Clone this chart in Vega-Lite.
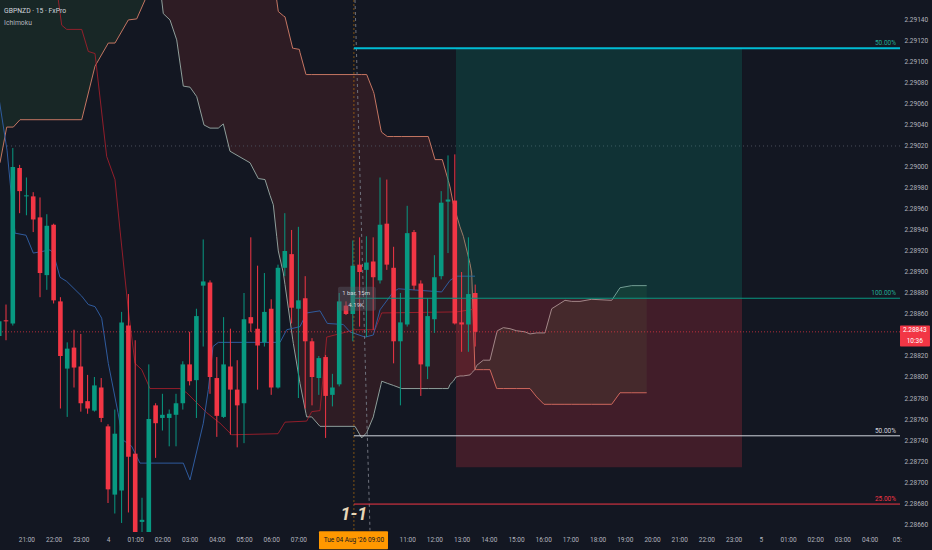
{
  "$schema": "https://vega.github.io/schema/vega-lite/v6.json",
  "width": 900,
  "height": 532,
  "autosize": {"type": "none"},
  "padding": {"left": 0, "top": 0, "right": 32, "bottom": 18},
  "background": "#131722",
  "config": {"view": {"stroke": null}, "font": "Roboto"},
  "datasets": {
    "candles": [
      {"t": -4.0, "o": 2.28839, "h": 2.28856, "l": 2.28837, "c": 2.28853},
      {"t": -3.75, "o": 2.28854, "h": 2.28869, "l": 2.28835, "c": 2.28853},
      {"t": -3.5, "o": 2.28851, "h": 2.29018, "l": 2.28849, "c": 2.29000},
      {"t": -3.25, "o": 2.28999, "h": 2.29002, "l": 2.28956, "c": 2.28977},
      {"t": -3.0, "o": 2.28972, "h": 2.28990, "l": 2.28954, "c": 2.28973},
      {"t": -2.75, "o": 2.28972, "h": 2.28976, "l": 2.28938, "c": 2.28950},
      {"t": -2.5, "o": 2.28952, "h": 2.28971, "l": 2.28876, "c": 2.28899},
      {"t": -2.25, "o": 2.28897, "h": 2.28955, "l": 2.28883, "c": 2.28944},
      {"t": -2.0, "o": 2.28945, "h": 2.28946, "l": 2.28870, "c": 2.28873},
      {"t": -1.75, "o": 2.28872, "h": 2.28876, "l": 2.28770, "c": 2.28820},
      {"t": -1.5, "o": 2.28808, "h": 2.28833, "l": 2.28762, "c": 2.28827},
      {"t": -1.25, "o": 2.28828, "h": 2.28845, "l": 2.28790, "c": 2.28809},
      {"t": -1.0, "o": 2.28810, "h": 2.28841, "l": 2.28767, "c": 2.28775},
      {"t": -0.75, "o": 2.28777, "h": 2.28802, "l": 2.28765, "c": 2.28770},
      {"t": -0.5, "o": 2.28768, "h": 2.28800, "l": 2.28767, "c": 2.28792},
      {"t": -0.25, "o": 2.28790, "h": 2.28799, "l": 2.28757, "c": 2.28761},
      {"t": 0.0, "o": 2.28753, "h": 2.28755, "l": 2.28680, "c": 2.28693},
      {"t": 0.25, "o": 2.28688, "h": 2.28769, "l": 2.28670, "c": 2.28746},
      {"t": 0.5, "o": 2.28692, "h": 2.28862, "l": 2.28661, "c": 2.28852},
      {"t": 0.75, "o": 2.28849, "h": 2.28879, "l": 2.28671, "c": 2.28724},
      {"t": 1.0, "o": 2.28727, "h": 2.28835, "l": 2.28640, "c": 2.28648},
      {"t": 1.25, "o": 2.28662, "h": 2.28685, "l": 2.28640, "c": 2.28664},
      {"t": 1.5, "o": 2.28648, "h": 2.28812, "l": 2.28640, "c": 2.28760},
      {"t": 1.75, "o": 2.28773, "h": 2.28775, "l": 2.28723, "c": 2.28756},
      {"t": 2.0, "o": 2.28761, "h": 2.28784, "l": 2.28749, "c": 2.28764},
      {"t": 2.25, "o": 2.28761, "h": 2.28769, "l": 2.28734, "c": 2.28765},
      {"t": 2.5, "o": 2.28764, "h": 2.28784, "l": 2.28734, "c": 2.28775},
      {"t": 2.75, "o": 2.28775, "h": 2.28815, "l": 2.28769, "c": 2.28812},
      {"t": 3.0, "o": 2.28812, "h": 2.28843, "l": 2.28792, "c": 2.28796},
      {"t": 3.25, "o": 2.28797, "h": 2.28865, "l": 2.28761, "c": 2.28858},
      {"t": 3.5, "o": 2.28887, "h": 2.28931, "l": 2.28829, "c": 2.28891},
      {"t": 3.75, "o": 2.28890, "h": 2.28892, "l": 2.28784, "c": 2.28800},
      {"t": 4.0, "o": 2.28799, "h": 2.28819, "l": 2.28743, "c": 2.28763},
      {"t": 4.25, "o": 2.28762, "h": 2.28857, "l": 2.28761, "c": 2.28812},
      {"t": 4.5, "o": 2.28810, "h": 2.28846, "l": 2.28745, "c": 2.28788},
      {"t": 4.75, "o": 2.28788, "h": 2.28816, "l": 2.28733, "c": 2.28773},
      {"t": 5.0, "o": 2.28775, "h": 2.28880, "l": 2.28737, "c": 2.28855},
      {"t": 5.25, "o": 2.28857, "h": 2.28933, "l": 2.28843, "c": 2.28851},
      {"t": 5.5, "o": 2.28846, "h": 2.28906, "l": 2.28788, "c": 2.28830},
      {"t": 5.75, "o": 2.28833, "h": 2.28899, "l": 2.28829, "c": 2.28862},
      {"t": 6.0, "o": 2.28865, "h": 2.28874, "l": 2.28783, "c": 2.28790},
      {"t": 6.25, "o": 2.28790, "h": 2.28907, "l": 2.28789, "c": 2.28904},
      {"t": 6.5, "o": 2.28904, "h": 2.28956, "l": 2.28896, "c": 2.28920},
      {"t": 6.75, "o": 2.28917, "h": 2.28940, "l": 2.28851, "c": 2.28866},
      {"t": 7.0, "o": 2.28865, "h": 2.28943, "l": 2.28780, "c": 2.28873},
      {"t": 7.25, "o": 2.28875, "h": 2.28896, "l": 2.28770, "c": 2.28834},
      {"t": 7.5, "o": 2.28834, "h": 2.28837, "l": 2.28773, "c": 2.28800},
      {"t": 7.75, "o": 2.28799, "h": 2.28820, "l": 2.28783, "c": 2.28818},
      {"t": 8.0, "o": 2.28819, "h": 2.28821, "l": 2.28742, "c": 2.28782},
      {"t": 8.25, "o": 2.28783, "h": 2.28803, "l": 2.28772, "c": 2.28790},
      {"t": 8.5, "o": 2.28793, "h": 2.28880, "l": 2.28791, "c": 2.28872},
      {"t": 8.75, "o": 2.28868, "h": 2.28872, "l": 2.28859, "c": 2.28860},
      {"t": 9.0, "o": 2.28860, "h": 2.28930, "l": 2.28834, "c": 2.28906},
      {"t": 9.25, "o": 2.28907, "h": 2.28933, "l": 2.28848, "c": 2.28900},
      {"t": 9.5, "o": 2.28902, "h": 2.28934, "l": 2.28838, "c": 2.28909},
      {"t": 9.75, "o": 2.28910, "h": 2.28933, "l": 2.28845, "c": 2.28895},
      {"t": 10.0, "o": 2.28892, "h": 2.28990, "l": 2.28889, "c": 2.28945},
      {"t": 10.25, "o": 2.28946, "h": 2.28988, "l": 2.28902, "c": 2.28907},
      {"t": 10.5, "o": 2.28904, "h": 2.28924, "l": 2.28813, "c": 2.28834},
      {"t": 10.75, "o": 2.28834, "h": 2.28880, "l": 2.28773, "c": 2.28852},
      {"t": 11.0, "o": 2.28850, "h": 2.28963, "l": 2.28848, "c": 2.28937},
      {"t": 11.25, "o": 2.28938, "h": 2.28940, "l": 2.28883, "c": 2.28887},
      {"t": 11.5, "o": 2.28889, "h": 2.28892, "l": 2.28782, "c": 2.28812},
      {"t": 11.75, "o": 2.28810, "h": 2.28875, "l": 2.28798, "c": 2.28858},
      {"t": 12.0, "o": 2.28855, "h": 2.28916, "l": 2.28842, "c": 2.28895},
      {"t": 12.25, "o": 2.28896, "h": 2.28977, "l": 2.28893, "c": 2.28966},
      {"t": 12.5, "o": 2.28967, "h": 2.29011, "l": 2.28918, "c": 2.28969},
      {"t": 12.75, "o": 2.28968, "h": 2.29012, "l": 2.28850, "c": 2.28851},
      {"t": 13.0, "o": 2.28852, "h": 2.28900, "l": 2.28824, "c": 2.28850},
      {"t": 13.25, "o": 2.28850, "h": 2.28933, "l": 2.28824, "c": 2.28879},
      {"t": 13.5, "o": 2.28880, "h": 2.28888, "l": 2.28829, "c": 2.28843}
    ],
    "cloud": [
      {"seg": "g1", "t": -4.2, "a": 2.2920, "b": 2.29000},
      {"seg": "g1", "t": -3.971, "a": 2.2920, "b": 2.29004},
      {"seg": "g1", "t": -3.724, "a": 2.2920, "b": 2.29038},
      {"seg": "g1", "t": -3.482, "a": 2.2920, "b": 2.29038},
      {"seg": "g1", "t": -3.235, "a": 2.2920, "b": 2.29045},
      {"seg": "g1", "t": -0.967, "a": 2.2920, "b": 2.29045},
      {"seg": "g1", "t": -0.478, "a": 2.2920, "b": 2.29096},
      {"seg": "g1", "t": 0.011, "a": 2.2920, "b": 2.29118},
      {"seg": "g1", "t": 0.257, "a": 2.2920, "b": 2.29118},
      {"seg": "g1", "t": 0.746, "a": 2.2920, "b": 2.29140},
      {"seg": "g1", "t": 1.055, "a": 2.2920, "b": 2.29141},
      {"seg": "g1", "t": 1.36, "a": 2.2920, "b": 2.29159},
      {"seg": "g1", "t": 1.7, "a": 2.29185, "b": 2.29185},
      {"seg": "r", "t": 1.7, "a": 2.29185, "b": 2.29185},
      {"seg": "r", "t": 1.974, "a": 2.29159, "b": 2.2920},
      {"seg": "r", "t": 2.033, "a": 2.29146, "b": 2.2920},
      {"seg": "r", "t": 2.279, "a": 2.29140, "b": 2.2920},
      {"seg": "r", "t": 2.526, "a": 2.29121, "b": 2.2920},
      {"seg": "r", "t": 2.768, "a": 2.29077, "b": 2.2920},
      {"seg": "r", "t": 3.015, "a": 2.29076, "b": 2.2920},
      {"seg": "r", "t": 3.261, "a": 2.29067, "b": 2.2920},
      {"seg": "r", "t": 3.529, "a": 2.29040, "b": 2.2920},
      {"seg": "r", "t": 3.75, "a": 2.29037, "b": 2.2920},
      {"seg": "r", "t": 4.055, "a": 2.29037, "b": 2.2920},
      {"seg": "r", "t": 4.239, "a": 2.29041, "b": 2.2920},
      {"seg": "r", "t": 4.485, "a": 2.29015, "b": 2.2920},
      {"seg": "r", "t": 5.221, "a": 2.29004, "b": 2.2920},
      {"seg": "r", "t": 5.526, "a": 2.28989, "b": 2.2920},
      {"seg": "r", "t": 5.772, "a": 2.28988, "b": 2.2920},
      {"seg": "r", "t": 5.956, "a": 2.28973, "b": 2.29188},
      {"seg": "r", "t": 6.077, "a": 2.28964, "b": 2.29174},
      {"seg": "r", "t": 6.202, "a": 2.28934, "b": 2.29159},
      {"seg": "r", "t": 6.261, "a": 2.28920, "b": 2.29148},
      {"seg": "r", "t": 6.445, "a": 2.28899, "b": 2.29144},
      {"seg": "r", "t": 6.507, "a": 2.28888, "b": 2.29143},
      {"seg": "r", "t": 6.79, "a": 2.28836, "b": 2.29113},
      {"seg": "r", "t": 6.813, "a": 2.28832, "b": 2.29113},
      {"seg": "r", "t": 7.033, "a": 2.28798, "b": 2.29112},
      {"seg": "r", "t": 7.059, "a": 2.28794, "b": 2.29109},
      {"seg": "r", "t": 7.279, "a": 2.28765, "b": 2.29088},
      {"seg": "r", "t": 7.305, "a": 2.28762, "b": 2.29088},
      {"seg": "r", "t": 7.489, "a": 2.28762, "b": 2.29088},
      {"seg": "r", "t": 7.794, "a": 2.28753, "b": 2.29088},
      {"seg": "r", "t": 9.081, "a": 2.28753, "b": 2.29088},
      {"seg": "r", "t": 9.327, "a": 2.28742, "b": 2.29088},
      {"seg": "r", "t": 9.511, "a": 2.28747, "b": 2.29088},
      {"seg": "r", "t": 9.754, "a": 2.28762, "b": 2.29072},
      {"seg": "r", "t": 9.779, "a": 2.28765, "b": 2.29070},
      {"seg": "r", "t": 10.037, "a": 2.28793, "b": 2.29035},
      {"seg": "r", "t": 10.063, "a": 2.28796, "b": 2.29033},
      {"seg": "r", "t": 10.268, "a": 2.28794, "b": 2.29029},
      {"seg": "r", "t": 10.489, "a": 2.28792, "b": 2.29029},
      {"seg": "r", "t": 10.798, "a": 2.28789, "b": 2.29029},
      {"seg": "r", "t": 11.776, "a": 2.28789, "b": 2.29029},
      {"seg": "r", "t": 12.022, "a": 2.28789, "b": 2.29007},
      {"seg": "r", "t": 12.29, "a": 2.28789, "b": 2.29007},
      {"seg": "r", "t": 12.511, "a": 2.28789, "b": 2.28987},
      {"seg": "r", "t": 12.574, "a": 2.28793, "b": 2.28981},
      {"seg": "r", "t": 12.695, "a": 2.28796, "b": 2.28965},
      {"seg": "r", "t": 12.794, "a": 2.28800, "b": 2.28956},
      {"seg": "r", "t": 12.941, "a": 2.28801, "b": 2.28943},
      {"seg": "r", "t": 13.063, "a": 2.28801, "b": 2.28934},
      {"seg": "r", "t": 13.309, "a": 2.28802, "b": 2.28908},
      {"seg": "r", "t": 13.371, "a": 2.28804, "b": 2.28899},
      {"seg": "r", "t": 13.49, "a": 2.28807, "b": 2.28807},
      {"seg": "g2", "t": 13.49, "a": 2.28807, "b": 2.28807},
      {"seg": "g2", "t": 13.555, "a": 2.28811, "b": 2.28807},
      {"seg": "g2", "t": 13.798, "a": 2.28816, "b": 2.28807},
      {"seg": "g2", "t": 14.044, "a": 2.28816, "b": 2.28807},
      {"seg": "g2", "t": 14.29, "a": 2.28842, "b": 2.28789},
      {"seg": "g2", "t": 14.313, "a": 2.28844, "b": 2.28789},
      {"seg": "g2", "t": 14.533, "a": 2.28847, "b": 2.28789},
      {"seg": "g2", "t": 14.779, "a": 2.28846, "b": 2.28789},
      {"seg": "g2", "t": 15.026, "a": 2.28844, "b": 2.28789},
      {"seg": "g2", "t": 15.331, "a": 2.28843, "b": 2.28789},
      {"seg": "g2", "t": 15.515, "a": 2.28841, "b": 2.28789},
      {"seg": "g2", "t": 15.761, "a": 2.28842, "b": 2.28781},
      {"seg": "g2", "t": 16.029, "a": 2.28842, "b": 2.28774},
      {"seg": "g2", "t": 16.066, "a": 2.28842, "b": 2.28774},
      {"seg": "g2", "t": 16.313, "a": 2.28865, "b": 2.28774},
      {"seg": "g2", "t": 16.801, "a": 2.28873, "b": 2.28774},
      {"seg": "g2", "t": 17.048, "a": 2.28872, "b": 2.28774},
      {"seg": "g2", "t": 17.353, "a": 2.28872, "b": 2.28774},
      {"seg": "g2", "t": 17.783, "a": 2.28874, "b": 2.28774},
      {"seg": "g2", "t": 18.518, "a": 2.28873, "b": 2.28774},
      {"seg": "g2", "t": 18.824, "a": 2.28885, "b": 2.28785},
      {"seg": "g2", "t": 19.254, "a": 2.28887, "b": 2.28785},
      {"seg": "g2", "t": 19.805, "a": 2.28887, "b": 2.28785}
    ],
    "kijun": [
      {"t": -1.9, "p": 2.29185}, {"t": -1.827, "p": 2.29159}, {"t": -1.702, "p": 2.29135},
      {"t": -1.518, "p": 2.29131}, {"t": -0.967, "p": 2.29131}, {"t": -0.724, "p": 2.29110},
      {"t": -0.478, "p": 2.29108}, {"t": -0.048, "p": 2.29010}, {"t": 0.257, "p": 2.28988},
      {"t": 0.441, "p": 2.28940}, {"t": 0.746, "p": 2.28864}, {"t": 0.993, "p": 2.28813},
      {"t": 1.239, "p": 2.28807}, {"t": 1.544, "p": 2.28789}, {"t": 2.647, "p": 2.28789},
      {"t": 2.893, "p": 2.28785}, {"t": 3.629, "p": 2.28766}, {"t": 4.118, "p": 2.28756},
      {"t": 4.548, "p": 2.28745}, {"t": 6.25, "p": 2.28746}, {"t": 6.507, "p": 2.28757},
      {"t": 7.305, "p": 2.28758}, {"t": 7.489, "p": 2.28767}, {"t": 7.794, "p": 2.28768},
      {"t": 8.04, "p": 2.28838}, {"t": 9.081, "p": 2.28845}, {"t": 9.816, "p": 2.28845},
      {"t": 10.063, "p": 2.28861}, {"t": 12.82, "p": 2.28862}, {"t": 13.555, "p": 2.28865}
    ],
    "tenkan": [
      {"t": -4.2, "p": 2.29100}, {"t": -3.971, "p": 2.29059}, {"t": -3.713, "p": 2.29016},
      {"t": -3.419, "p": 2.28937}, {"t": -3.015, "p": 2.28935}, {"t": -2.746, "p": 2.28918},
      {"t": -2.132, "p": 2.28921}, {"t": -2.011, "p": 2.28918}, {"t": -1.765, "p": 2.28895},
      {"t": -1.518, "p": 2.28891}, {"t": -0.967, "p": 2.28877}, {"t": -0.724, "p": 2.28869},
      {"t": -0.478, "p": 2.28867}, {"t": -0.232, "p": 2.28856}, {"t": 0.011, "p": 2.28813},
      {"t": 0.368, "p": 2.28766}, {"t": 0.551, "p": 2.28740}, {"t": 0.871, "p": 2.28734},
      {"t": 1.176, "p": 2.28718}, {"t": 2.768, "p": 2.28718}, {"t": 3.015, "p": 2.28702},
      {"t": 3.504, "p": 2.28756}, {"t": 3.688, "p": 2.28788}, {"t": 3.86, "p": 2.28829},
      {"t": 4.055, "p": 2.28833}, {"t": 6.324, "p": 2.28833}, {"t": 6.57, "p": 2.28845},
      {"t": 7.059, "p": 2.28848}, {"t": 7.305, "p": 2.28861}, {"t": 7.794, "p": 2.28863},
      {"t": 8.063, "p": 2.28851}, {"t": 8.651, "p": 2.28850}, {"t": 8.897, "p": 2.28843},
      {"t": 9.449, "p": 2.28838}, {"t": 9.754, "p": 2.28840}, {"t": 10.0, "p": 2.28864},
      {"t": 10.489, "p": 2.28881}, {"t": 10.673, "p": 2.28884}, {"t": 12.268, "p": 2.28881},
      {"t": 12.574, "p": 2.28892}, {"t": 12.82, "p": 2.28896}, {"t": 13.493, "p": 2.28896}
    ],
    "levels": [
      {"name": "target", "p": 2.29113, "t1": 9.04, "t2": 29.118, "label": "50.00%"},
      {"name": "entry", "p": 2.28875, "t1": 9.04, "t2": 29.118, "label": "100.00%"},
      {"name": "mid", "p": 2.28744, "t1": 9.04, "t2": 29.118, "label": "50.00%"},
      {"name": "stop", "p": 2.28679, "t1": 9.04, "t2": 29.118, "label": "25.00%"}
    ],
    "boxes": [
      {"name": "profit", "t1": 12.794, "t2": 23.31, "p1": 2.28875, "p2": 2.29113},
      {"name": "loss", "t1": 12.794, "t2": 23.31, "p1": 2.28714, "p2": 2.28875}
    ],
    "hlines": [
      {"name": "last", "p": 2.28843},
      {"name": "cross", "p": 2.29020}
    ],
    "vline": [{"t": 9.04}],
    "diag": [{"t": 9.081, "p": 2.29159}, {"t": 9.632, "p": 2.28654}],
    "tipbox": [{"t1": 8.456, "t2": 9.85, "p1": 2.28863, "p2": 2.28886}],
    "tiptext": [
      {"t": 9.12, "p": 2.28880, "text": "1 bar, 15m"},
      {"t": 9.12, "p": 2.28869, "text": "4.19K"}
    ],
    "big": [{"t": 9.04, "p": 2.28669, "text": "1-1"}],
    "titles": [
      {"kind": "sym", "t": -3.82, "p": 2.29149, "text": "GBPNZD · 15 · FxPro"},
      {"kind": "ind", "t": -3.82, "p": 2.29137, "text": "Ichimoku"}
    ],
    "timebox": [{"t1": 7.757, "t2": 10.294, "p1": 2.28636, "p2": 2.28653, "tc": 9.04, "pc": 2.28645, "text": "Tue 04 Aug '26   09:00"}],
    "pricebox": [{"t1": 29.118, "t2": 30.22, "p1": 2.28829, "p2": 2.28849, "tc": 29.66, "pa": 2.28845, "pb": 2.28834, "ta": "2.28843", "tb": "10:36"}]
  },
  "layer": [
    {
      "data": {"name": "cloud"},
      "transform": [{"filter": "datum.seg == 'g1'"}],
      "mark": {"type": "area", "color": "#43a047", "opacity": 0.12, "clip": true},
      "encoding": {
        "x": {
          "field": "t", "type": "quantitative", "title": null,
          "scale": {"domain": [-3.971, 29.118], "nice": false, "zero": false, "padding": 0},
          "axis": {
            "title": null, "domain": false, "ticks": false, "grid": false, "tickCount": 100,
            "values": [-3, -2, -1, 0, 1, 2, 3, 4, 5, 6, 7, 11, 12, 13, 14, 15, 16, 17, 18, 19, 20, 21, 22, 23, 24, 25, 26, 27, 28, 29],
            "labelExpr": "datum.value == 29 ? '05:' : datum.value == 0 ? '4' : datum.value == 24 ? '5' : ((((datum.value % 24) + 24) % 24) < 10 ? '0' : '') + (((datum.value % 24) + 24) % 24) + ':00'",
            "labelColor": "#b2b5be", "labelFontSize": 6.5, "labelPadding": 4,
            "labelFlush": false, "labelOverlap": false, "labelBound": false
          }
        },
        "y": {
          "field": "a", "type": "quantitative", "title": null,
          "scale": {"domain": [2.286524, 2.29159], "nice": false, "zero": false, "padding": 0},
          "axis": {
            "orient": "right", "title": null, "domain": false, "ticks": false, "grid": false, "tickCount": 100,
            "values": [2.2866, 2.2868, 2.287, 2.2872, 2.2874, 2.2876, 2.2878, 2.288, 2.2882, 2.2886, 2.2888, 2.289, 2.2892, 2.2894, 2.2896, 2.2898, 2.29, 2.2902, 2.2904, 2.2906, 2.2908, 2.291, 2.2912, 2.2914],
            "format": ".5f", "labelColor": "#b2b5be", "labelFontSize": 6.5, "labelPadding": 4,
            "labelOverlap": false, "labelFlush": false
          }
        },
        "y2": {"field": "b"}
      }
    },
    {
      "data": {"name": "cloud"},
      "transform": [{"filter": "datum.seg == 'r'"}],
      "mark": {"type": "area", "color": "#f44336", "opacity": 0.12, "clip": true},
      "encoding": {
        "x": {"field": "t", "type": "quantitative", "title": null},
        "y": {"field": "a", "type": "quantitative", "title": null},
        "y2": {"field": "b"}
      }
    },
    {
      "data": {"name": "cloud"},
      "transform": [{"filter": "datum.seg == 'g2'"}],
      "mark": {"type": "area", "color": "#43a047", "opacity": 0.12, "clip": true},
      "encoding": {
        "x": {"field": "t", "type": "quantitative", "title": null},
        "y": {"field": "a", "type": "quantitative", "title": null},
        "y2": {"field": "b"}
      }
    },
    {
      "data": {"name": "hlines"},
      "transform": [{"filter": "datum.name == 'cross'"}],
      "mark": {"type": "rule", "color": "#4a4e5a", "strokeWidth": 1, "strokeDash": [1, 3], "clip": true},
      "encoding": {"y": {"field": "p", "type": "quantitative", "title": null}}
    },
    {
      "data": {"name": "cloud"},
      "mark": {"type": "line", "color": "#8e9e9a", "strokeWidth": 1, "clip": true},
      "encoding": {
        "x": {"field": "t", "type": "quantitative", "title": null},
        "y": {"field": "a", "type": "quantitative", "title": null}
      }
    },
    {
      "data": {"name": "cloud"},
      "mark": {"type": "line", "color": "#c47562", "strokeWidth": 1, "clip": true},
      "encoding": {
        "x": {"field": "t", "type": "quantitative", "title": null},
        "y": {"field": "b", "type": "quantitative", "title": null}
      }
    },
    {
      "data": {"name": "kijun"},
      "mark": {"type": "line", "color": "#a81e2c", "strokeWidth": 1, "opacity": 0.85, "clip": true},
      "encoding": {
        "x": {"field": "t", "type": "quantitative", "title": null},
        "y": {"field": "p", "type": "quantitative", "title": null}
      }
    },
    {
      "data": {"name": "tenkan"},
      "mark": {"type": "line", "color": "#2f5b9e", "strokeWidth": 1, "clip": true},
      "encoding": {
        "x": {"field": "t", "type": "quantitative", "title": null},
        "y": {"field": "p", "type": "quantitative", "title": null}
      }
    },
    {
      "data": {"name": "boxes"},
      "mark": {"type": "rect", "opacity": 0.21, "clip": true},
      "encoding": {
        "x": {"field": "t1", "type": "quantitative", "title": null},
        "x2": {"field": "t2"},
        "y": {"field": "p1", "type": "quantitative", "title": null},
        "y2": {"field": "p2"},
        "color": {"condition": {"test": "datum.name == 'profit'", "value": "#089981"}, "value": "#f23645"}
      }
    },
    {
      "data": {"name": "hlines"},
      "transform": [{"filter": "datum.name == 'last'"}],
      "mark": {"type": "rule", "color": "#f23645", "opacity": 0.7, "strokeWidth": 1, "strokeDash": [1, 2], "clip": true},
      "encoding": {"y": {"field": "p", "type": "quantitative", "title": null}}
    },
    {
      "data": {"name": "vline"},
      "mark": {"type": "rule", "color": "#ff9800", "opacity": 0.45, "strokeWidth": 1, "strokeDash": [2, 2], "clip": true},
      "encoding": {"x": {"field": "t", "type": "quantitative", "title": null}}
    },
    {
      "data": {"name": "diag"},
      "mark": {"type": "line", "color": "#6f727d", "strokeWidth": 1, "strokeDash": [3, 3], "clip": true},
      "encoding": {
        "x": {"field": "t", "type": "quantitative", "title": null},
        "y": {"field": "p", "type": "quantitative", "title": null}
      }
    },
    {
      "data": {"name": "candles"},
      "mark": {"type": "rule", "strokeWidth": 1, "clip": true},
      "encoding": {
        "x": {"field": "t", "type": "quantitative", "title": null},
        "y": {"field": "l", "type": "quantitative", "title": null},
        "y2": {"field": "h"},
        "color": {"condition": {"test": "datum.c >= datum.o", "value": "#089981"}, "value": "#f23645"}
      }
    },
    {
      "data": {"name": "candles"},
      "mark": {"type": "bar", "size": 4.6, "clip": true},
      "encoding": {
        "x": {"field": "t", "type": "quantitative", "title": null},
        "y": {"field": "o", "type": "quantitative", "title": null},
        "y2": {"field": "c"},
        "color": {"condition": {"test": "datum.c >= datum.o", "value": "#089981"}, "value": "#f23645"}
      }
    },
    {
      "data": {"name": "levels"},
      "mark": {"type": "rule", "clip": true},
      "encoding": {
        "x": {"field": "t1", "type": "quantitative", "title": null},
        "x2": {"field": "t2"},
        "y": {"field": "p", "type": "quantitative", "title": null},
        "color": {"condition": [
          {"test": "datum.name == 'target'", "value": "#00bcd4"},
          {"test": "datum.name == 'entry'", "value": "#089981"},
          {"test": "datum.name == 'mid'", "value": "#d1d4dc"}
        ], "value": "#f23645"},
        "strokeWidth": {"condition": {"test": "datum.name == 'target'", "value": 2}, "value": 1}
      }
    },
    {
      "data": {"name": "levels"},
      "mark": {"type": "text", "align": "right", "baseline": "bottom", "dx": -4, "dy": -2, "fontSize": 6.5, "clip": false},
      "encoding": {
        "x": {"field": "t2", "type": "quantitative", "title": null},
        "y": {"field": "p", "type": "quantitative", "title": null},
        "text": {"field": "label"},
        "color": {"condition": [
          {"test": "datum.name == 'target'", "value": "#22ab94"},
          {"test": "datum.name == 'entry'", "value": "#22ab94"},
          {"test": "datum.name == 'mid'", "value": "#d1d4dc"}
        ], "value": "#f23645"}
      }
    },
    {
      "data": {"name": "tipbox"},
      "mark": {"type": "rect", "color": "#5d606b", "opacity": 0.4, "cornerRadius": 2, "clip": true},
      "encoding": {
        "x": {"field": "t1", "type": "quantitative", "title": null},
        "x2": {"field": "t2"},
        "y": {"field": "p1", "type": "quantitative", "title": null},
        "y2": {"field": "p2"}
      }
    },
    {
      "data": {"name": "tiptext"},
      "mark": {"type": "text", "color": "#d1d4dc", "fontSize": 6, "align": "center", "baseline": "middle", "clip": true},
      "encoding": {
        "x": {"field": "t", "type": "quantitative", "title": null},
        "y": {"field": "p", "type": "quantitative", "title": null},
        "text": {"field": "text"}
      }
    },
    {
      "data": {"name": "big"},
      "mark": {"type": "text", "color": "#e6d6b8", "fontSize": 18, "fontWeight": "bold", "fontStyle": "italic", "align": "center", "baseline": "middle", "clip": true},
      "encoding": {
        "x": {"field": "t", "type": "quantitative", "title": null},
        "y": {"field": "p", "type": "quantitative", "title": null},
        "text": {"field": "text"}
      }
    },
    {
      "data": {"name": "titles"},
      "mark": {"type": "text", "align": "left", "baseline": "middle", "fontSize": 6.8, "clip": true},
      "encoding": {
        "x": {"field": "t", "type": "quantitative", "title": null},
        "y": {"field": "p", "type": "quantitative", "title": null},
        "text": {"field": "text"},
        "color": {"condition": {"test": "datum.kind == 'sym'", "value": "#d1d4dc"}, "value": "#b2b5be"}
      }
    },
    {
      "data": {"name": "timebox"},
      "mark": {"type": "rect", "color": "#ff9800", "cornerRadius": 1, "clip": false},
      "encoding": {
        "x": {"field": "t1", "type": "quantitative", "title": null},
        "x2": {"field": "t2"},
        "y": {"field": "p1", "type": "quantitative", "title": null},
        "y2": {"field": "p2"}
      }
    },
    {
      "data": {"name": "timebox"},
      "mark": {"type": "text", "color": "#131722", "fontSize": 6.5, "align": "center", "baseline": "middle", "clip": false},
      "encoding": {
        "x": {"field": "tc", "type": "quantitative", "title": null},
        "y": {"field": "pc", "type": "quantitative", "title": null},
        "text": {"field": "text"}
      }
    },
    {
      "data": {"name": "pricebox"},
      "mark": {"type": "rect", "color": "#f23645", "cornerRadius": 1, "clip": false},
      "encoding": {
        "x": {"field": "t1", "type": "quantitative", "title": null},
        "x2": {"field": "t2"},
        "y": {"field": "p1", "type": "quantitative", "title": null},
        "y2": {"field": "p2"}
      }
    },
    {
      "data": {"name": "pricebox"},
      "mark": {"type": "text", "color": "#ffffff", "fontSize": 6.5, "align": "center", "baseline": "middle", "clip": false},
      "encoding": {
        "x": {"field": "tc", "type": "quantitative", "title": null},
        "y": {"field": "pa", "type": "quantitative", "title": null},
        "text": {"field": "ta"}
      }
    },
    {
      "data": {"name": "pricebox"},
      "mark": {"type": "text", "color": "#ffffff", "fontSize": 6.5, "align": "center", "baseline": "middle", "clip": false},
      "encoding": {
        "x": {"field": "tc", "type": "quantitative", "title": null},
        "y": {"field": "pb", "type": "quantitative", "title": null},
        "text": {"field": "tb"}
      }
    }
  ]
}
